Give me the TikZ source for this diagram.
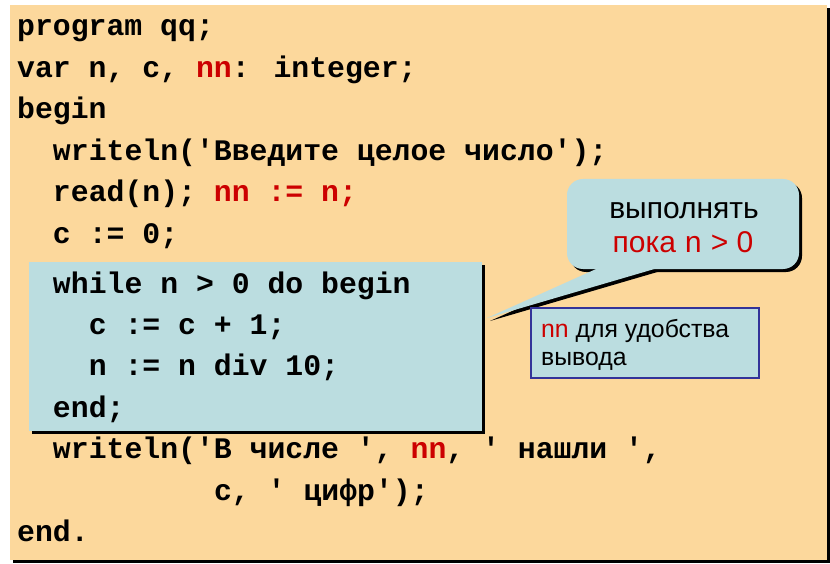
\documentclass[tikz,border=0pt]{standalone}
\usepackage{fontspec}
\setmainfont{Liberation Sans}
\newfontfamily\codefont[WordSpace={1,0,0}]{Liberation Mono}
\definecolor{peach}{RGB}{252,216,156}
\definecolor{lblue}{RGB}{187,221,224}
\definecolor{cred}{RGB}{204,0,0}
\definecolor{bordblue}{RGB}{51,51,153}
\tikzset{
  codeline/.style={anchor=base west, inner sep=0pt, font=\codefont\bfseries\fontsize{29.8bp}{30bp}\selectfont},
  sansline/.style={inner sep=0pt, font=\fontsize{30bp}{31bp}\selectfont},
  noteline/.style={anchor=base west, inner sep=0pt, font=\fontsize{24.8bp}{26bp}\selectfont},
}
\begin{document}
\begin{tikzpicture}[x=1bp,y=-1bp]
\useasboundingbox (0,0) rectangle (830,564);
% main frame
\fill[black] (13,8) rectangle (830,563);
\fill[peach] (10,5) rectangle (827,560);
% loop box
\fill[black] (32,265) rectangle (485,434);
\fill[lblue] (29,262) rectangle (482,431);
% callout
\begin{scope}[shift={(3,3)}]
\fill[black, rounded corners=16bp] (567,179) rectangle (799,269);
\fill[black] (605,265) -- (487,318) -- (668,265) -- cycle;
\end{scope}
\fill[lblue, rounded corners=16bp] (567,179) rectangle (799,269);
\fill[lblue] (605,265) -- (487,318) -- (668,265) -- cycle;
% note box
\draw[bordblue, line width=1.2bp, fill=lblue] (531,308) rectangle (759,378);

% code
\node[codeline] (l1) at (17,36) {program qq;};
\node[codeline] (l2) at (17,77.5) {var n, c, \textcolor{cred}{nn}: integer;};
\node[codeline] (l3) at (17,119) {begin};
\node[codeline] (l4) at (52.8,160.5) {writeln('Введите целое число');};
\node[codeline] (l5) at (52.8,202) {read(n); \textcolor{cred}{nn := n;}};
\node[codeline] (l6) at (52.8,243.5) {c := 0;};
\node[codeline] (l7) at (52.8,293) {while n > 0 do begin};
\node[codeline] (l8) at (88.6,334) {c := c + 1;};
\node[codeline] (l9) at (88.6,375.5) {n := n div 10;};
\node[codeline] (l10) at (52.8,417) {end;};
\node[codeline] (l11) at (52.8,458.5) {writeln('В числе ', \textcolor{cred}{nn}, ' нашли ',};
\node[codeline] (l12) at (213.9,500) {c, ' цифр');};
\node[codeline] (l13) at (17,541) {end.};

% callout text
\node[sansline, anchor=base] (c1) at (684,219) {выполнять};
\node[sansline, anchor=base, text=cred] (c2) at (683,252) {пока {\codefont n} > 0};

% note text
\node[noteline] (n1) at (541,337) {\textcolor{cred}{nn} для удобства};
\node[noteline] (n2) at (541,365) {вывода};
\end{tikzpicture}
\end{document}
